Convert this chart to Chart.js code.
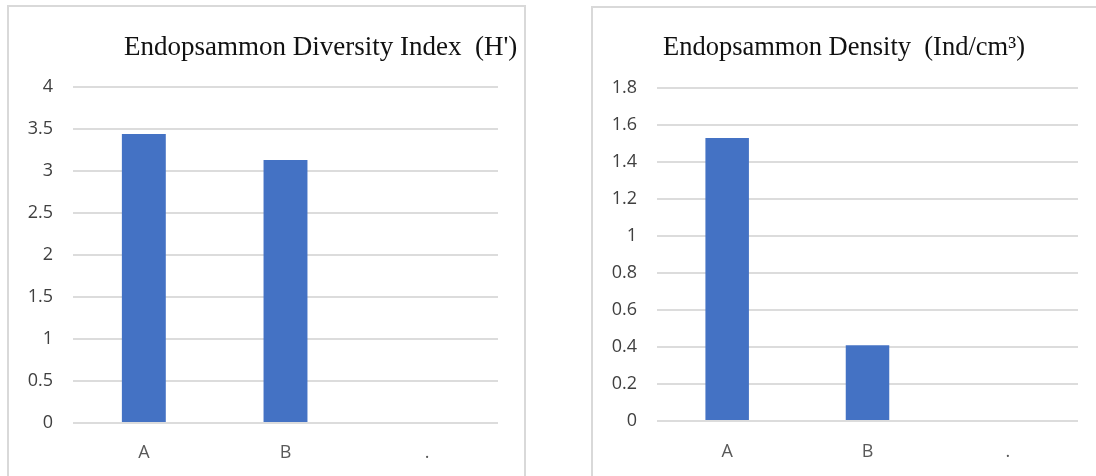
<!DOCTYPE html>
<html>
<head>
<meta charset="utf-8">
<script src="https://cdn.jsdelivr.net/npm/chart.js@4.4.0/dist/chart.umd.min.js"></script>
<style>
  html, body { margin: 0; padding: 0; background: #fff; width: 1096px; height: 476px; overflow: hidden; position: relative; }
  .panel { position: absolute; border: 2px solid #d9d9d9; box-sizing: border-box; }
  #panelDiv { left: 7px; top: 5px; width: 519px; height: 520px; }
  #panelDen { left: 591px; top: 6px; width: 560px; height: 520px; }
  canvas { position: absolute; top: 0; }
  #divChart { left: 0; }
  #denChart { left: 548px; }
  .title { position: absolute; font-family: "Liberation Serif", "Times New Roman", serif; font-size: 27px; line-height: 27px; white-space: nowrap; color: #111; }
  #titleDiv { left: 124px; top: 33px; }
  #titleDen { left: 663px; top: 33px; font-size: 26.5px; }
</style>
</head>
<body>
<div class="panel" id="panelDiv"></div>
<div class="panel" id="panelDen"></div>
<canvas id="divChart" width="548" height="476"></canvas>
<canvas id="denChart" width="548" height="476"></canvas>
<div class="title" id="titleDiv">Endopsammon Diversity Index&nbsp; (H')</div>
<div class="title" id="titleDen">Endopsammon Density&nbsp; (Ind/cm³)</div>
<script>
// Sampling stations
const categories = ['A', 'B', '.'];

// Shannon diversity index H' per station
const diversityValues = [3.44, 3.13, null];
// Endopsammon density (individuals per cm³) per station
const densityValues = [1.53, 0.41, null];

// Y-axis tick values
const diversityTicks = [0, 0.5, 1, 1.5, 2, 2.5, 3, 3.5, 4];
const densityTicks = [0, 0.2, 0.4, 0.6, 0.8, 1, 1.2, 1.4, 1.6, 1.8];

const BAR_BLUE = '#4472C4';
const GRID = '#dcdcdc';

function barChart(canvasId, values, ticks, geom) {
  return new Chart(document.getElementById(canvasId), {
    type: 'bar',
    data: {
      labels: categories,
      datasets: [{
        data: values,
        backgroundColor: BAR_BLUE,
        borderWidth: 0,
        categoryPercentage: 1,
        barPercentage: 0.31
      }]
    },
    options: {
      responsive: false,
      animation: false,
      events: [],
      layout: { padding: geom.padding },
      plugins: {
        legend: { display: false },
        title: { display: false },
        tooltip: { enabled: false }
      },
      scales: {
        x: {
          grid: { display: false },
          border: { display: false },
          ticks: {
            color: '#595959',
            font: { family: 'Open Sans', size: 18 },
            padding: geom.xPad,
            maxRotation: 0
          },
          afterFit: s => { s.height = 52; }
        },
        y: {
          min: 0,
          max: ticks[ticks.length - 1],
          border: { display: false },
          grid: { color: GRID, lineWidth: 2, drawTicks: false },
          afterBuildTicks: s => { s.ticks = ticks.map(v => ({ value: v })); },
          ticks: {
            color: '#404040',
            font: { family: 'Open Sans', size: 18 },
            padding: 20,
            callback: v => String(v)
          },
          afterFit: s => { s.width = geom.yWidth; }
        }
      }
    }
  });
}

barChart('divChart', diversityValues, diversityTicks, {
  padding: { left: 0, top: 87, right: 50, bottom: 1 },
  yWidth: 73,
  xPad: 11
});

barChart('denChart', densityValues, densityTicks, {
  padding: { left: 0, top: 88, right: 18, bottom: 3 },
  yWidth: 109,
  xPad: 12
});
</script>
</body>
</html>
